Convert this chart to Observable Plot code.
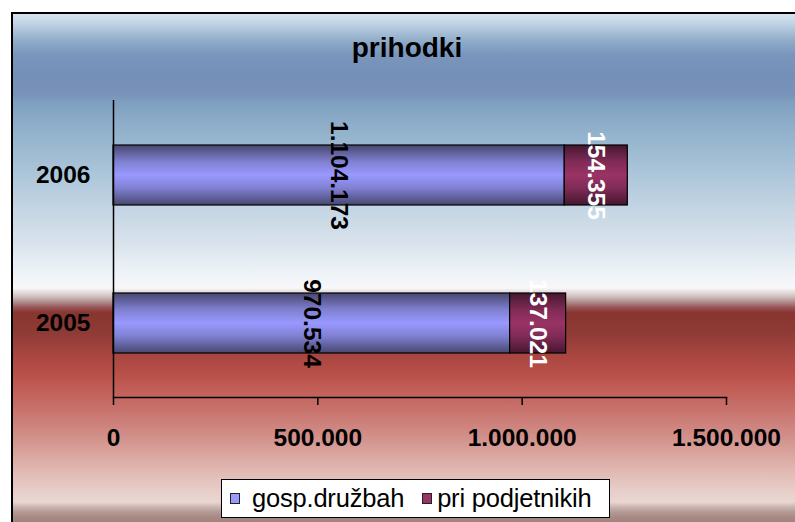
<!DOCTYPE html>
<html><head><meta charset="utf-8">
<script src="https://cdn.jsdelivr.net/npm/d3@7"></script>
<script src="https://cdn.jsdelivr.net/npm/@observablehq/plot@0.6"></script>
<style>
body{margin:0;background:#fff;}
#chart{position:relative;width:795px;height:522px;overflow:hidden;font-family:"Liberation Sans",Arial,sans-serif;color:#000;}
#bg{position:absolute;left:11px;top:12px;width:800px;height:520px;border-left:2px solid #000;border-top:2px solid #000;
background:linear-gradient(to bottom,
 #d8e4f0 0px,#c4d6e6 8px,#a8c0d6 18px,#8eaac8 28px,#7a96bc 40px,#7590b8 60px,#7892b9 80px,#7f9fc0 88px,
 #8cacc8 108px,#9ebbd2 138px,#b2c9dc 168px,#c6d6e4 198px,#d8e2ec 228px,#eaf0f5 253px,#f8f8fa 274px,
 #e6dcdc 278px,#d4c4c4 282px,#bca0a0 286px,#a87878 290px,#955050 294px,#883530 299px,#8e3a35 318px,
 #a5443f 338px,#b84e48 358px,#c2605a 378px,#c9756f 398px,#d08a84 418px,#d9a29c 438px,#e2bab4 458px,
 #e8cfca 478px,#e9d6d2 488px,#cbb5b0 493px,#b59a95 498px,#a88a85 503px,#9a7a75 515px);}
#title{position:absolute;left:11px;width:792px;top:33px;text-align:center;font-weight:bold;font-size:28px;line-height:30px;}
#plot{position:absolute;left:0;top:90px;}
#legend{position:absolute;left:221px;top:479px;width:387px;height:37px;border:1px solid #000;background:#fff;
 display:flex;align-items:center;font-size:25.5px;letter-spacing:-0.2px;white-space:nowrap;}
#legend .sw{display:inline-block;width:8px;height:9px;border:1px solid #222;margin:0 12px 0 8px;}
#legend .sw2{margin-left:18px;margin-right:5px;}
</style></head>
<body>
<div id="chart">
  <div id="bg"></div>
  <div id="title">prihodki</div>
  <div id="plot"></div>
  <div id="legend"></div>
</div>
<script>
const years = ["2006", "2005"];
const seriesNames = ["gosp.družbah", "pri podjetnikih"];
const gospDruzbah = [1104173, 970534];
const priPodjetnikih = [154355, 137021];
const xTicks = [0, 500000, 1000000, 1500000];
const swatchColors = ["#9999ff", "#993366"];

const loc = d3.formatLocale({decimal: ",", thousands: ".", grouping: [3], currency: ["", ""]});
const fmt = loc.format(",d");

const rows = [];
years.forEach((y, i) => {
  const vals = [gospDruzbah[i], priPodjetnikih[i]];
  let acc = 0;
  vals.forEach((v, j) => {
    rows.push({year: y, series: seriesNames[j], value: v, x1: acc, x2: acc + v, mid: acc + v / 2});
    acc += v;
  });
});

const plot = Plot.plot({
  width: 795,
  height: 360,
  marginLeft: 113,
  marginRight: 69,
  marginTop: 10,
  marginBottom: 53,
  style: {background: "transparent", fontFamily: "'Liberation Sans', Arial, sans-serif", fontSize: "24.5px", fontWeight: "bold", color: "#000", overflow: "visible"},
  x: {domain: [0, 1500000], label: null},
  y: {domain: years, padding: 0, label: null},
  color: {domain: seriesNames, range: ["url(#gBlue)", "url(#gRed)"]},
  marks: [
    Plot.barX(rows, {x1: "x1", x2: "x2", y: "year", fill: "series", stroke: "#000", strokeWidth: 1.2, insetTop: 44, insetBottom: 44}),
    Plot.ruleX([0], {stroke: "#000", strokeWidth: 1.5}),
    Plot.frame({anchor: "bottom", stroke: "#000", strokeWidth: 1.5}),
    Plot.axisX({ticks: xTicks, tickFormat: fmt, tickSize: 8, tickPadding: 23, stroke: "#000", strokeWidth: 1.5, label: null}),
    Plot.axisY({tickSize: 0, tickPadding: 23, label: null}),
    Plot.text(rows.filter(d => d.series === seriesNames[0]), {x: "mid", y: "year", text: d => fmt(d.value), rotate: 90, fill: "#000"}),
    Plot.text(rows.filter(d => d.series === seriesNames[1]), {x: "mid", y: "year", text: d => fmt(d.value), rotate: 90, fill: "#fff"})
  ]
});

d3.select(plot).insert("defs", ":first-child").html(`
  <linearGradient id="gBlue" x1="0" y1="0" x2="0" y2="1">
    <stop offset="0" stop-color="#474770"/>
    <stop offset="0.28" stop-color="#8080d2"/>
    <stop offset="0.5" stop-color="#9999ff"/>
    <stop offset="0.72" stop-color="#8080d2"/>
    <stop offset="1" stop-color="#474770"/>
  </linearGradient>
  <linearGradient id="gRed" x1="0" y1="0" x2="0" y2="1">
    <stop offset="0" stop-color="#45172f"/>
    <stop offset="0.28" stop-color="#802b56"/>
    <stop offset="0.5" stop-color="#993366"/>
    <stop offset="0.72" stop-color="#802b56"/>
    <stop offset="1" stop-color="#45172f"/>
  </linearGradient>`);

document.getElementById("plot").appendChild(plot);

const legend = d3.select("#legend");
seriesNames.forEach((s, i) => {
  legend.append("span").attr("class", i ? "sw sw2" : "sw").style("background", swatchColors[i]);
  legend.append("span").text(s);
});
</script>
</body></html>
